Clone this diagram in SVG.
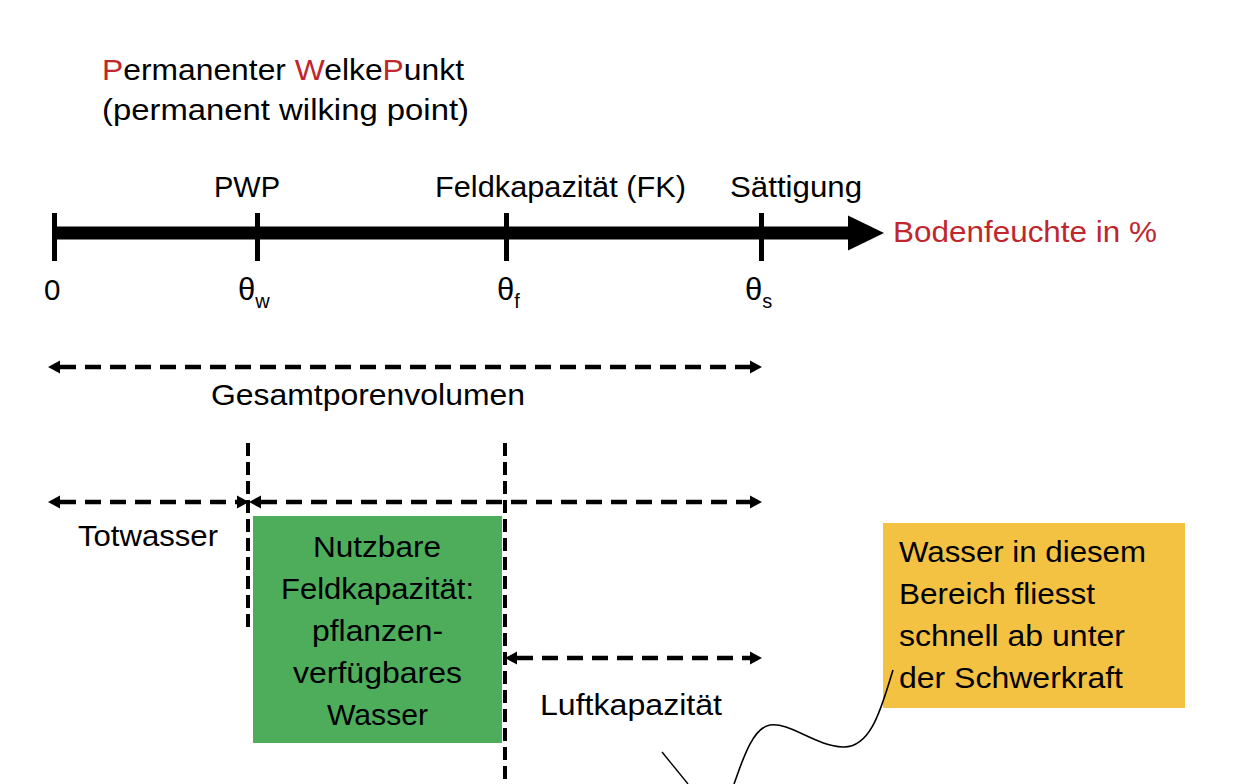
<svg xmlns="http://www.w3.org/2000/svg" width="1234" height="784" viewBox="0 0 1234 784">
<defs>
<style>
text{font-family:"Liberation Sans",Arial,sans-serif;font-size:29.5px;fill:#000}
.red{fill:#C0272D}
.dash{fill:none;stroke:#000;stroke-width:4.5;stroke-dasharray:16 9}
.vdash{fill:none;stroke:#000;stroke-width:4;stroke-dasharray:13 6}
.theta{font-size:31px}
.sub{font-size:20px}
</style>
<marker id="ah" viewBox="0 -7 13 14" markerWidth="13" markerHeight="14" refX="0" refY="0" markerUnits="userSpaceOnUse" orient="auto-start-reverse">
<path d="M0,-6.5 L12,0 L0,6.5 z" fill="#000"/>
</marker>
</defs>
<rect width="1234" height="784" fill="#fff"/>

<g id="title">
<text x="102" y="80" textLength="362" lengthAdjust="spacingAndGlyphs"><tspan class="red">P</tspan>ermanenter <tspan class="red">W</tspan>elke<tspan class="red">P</tspan>unkt</text>
<text x="102" y="120" textLength="367" lengthAdjust="spacingAndGlyphs">(permanent wilking point)</text>
</g>

<g id="axis">
<line x1="54" y1="233" x2="850" y2="233" stroke="#000" stroke-width="13"/>
<polygon points="848,215.5 884,233 848,250.5" fill="#000"/>
<rect x="52" y="213" width="5" height="48" fill="#000"/>
<rect x="255" y="213" width="5" height="48" fill="#000"/>
<rect x="504" y="213" width="5" height="48" fill="#000"/>
<rect x="759" y="213" width="5" height="48" fill="#000"/>
<text class="red" x="893" y="242" textLength="264" lengthAdjust="spacingAndGlyphs">Bodenfeuchte in %</text>
</g>

<g id="tick-labels">
<text x="214" y="197" textLength="66" lengthAdjust="spacingAndGlyphs">PWP</text>
<text x="435" y="197" textLength="251" lengthAdjust="spacingAndGlyphs">Feldkapazität (FK)</text>
<text x="730" y="197" textLength="132" lengthAdjust="spacingAndGlyphs">Sättigung</text>
<text x="44" y="300">0</text>
<text class="theta" x="238" y="300">θ<tspan class="sub" dy="8">w</tspan></text>
<text class="theta" x="497" y="300">θ<tspan class="sub" dy="8">f</tspan></text>
<text class="theta" x="745" y="300">θ<tspan class="sub" dy="8">s</tspan></text>
</g>

<g id="nutzbare-feldkapazitaet">
<rect x="253" y="516" width="249" height="227" fill="#4EAD5B"/>
<text x="313" y="557" textLength="128" lengthAdjust="spacingAndGlyphs">Nutzbare</text>
<text x="281" y="599" textLength="193" lengthAdjust="spacingAndGlyphs">Feldkapazität:</text>
<text x="312" y="641" textLength="131" lengthAdjust="spacingAndGlyphs">pflanzen-</text>
<text x="293" y="683" textLength="169" lengthAdjust="spacingAndGlyphs">verfügbares</text>
<text x="327" y="725" textLength="101" lengthAdjust="spacingAndGlyphs">Wasser</text>
</g>

<g id="note">
<rect x="883" y="523" width="302" height="185" fill="#F4C242"/>
<text x="899" y="562" textLength="247" lengthAdjust="spacingAndGlyphs">Wasser in diesem</text>
<text x="899" y="604" textLength="196" lengthAdjust="spacingAndGlyphs">Bereich fliesst</text>
<text x="899" y="646" textLength="226" lengthAdjust="spacingAndGlyphs">schnell ab unter</text>
<text x="899" y="688" textLength="224" lengthAdjust="spacingAndGlyphs">der Schwerkraft</text>
</g>

<g id="range-labels">
<text x="211" y="405" textLength="314" lengthAdjust="spacingAndGlyphs">Gesamtporenvolumen</text>
<text x="78" y="546" textLength="140" lengthAdjust="spacingAndGlyphs">Totwasser</text>
<text x="540" y="715" textLength="182" lengthAdjust="spacingAndGlyphs">Luftkapazität</text>
</g>

<g id="connectors">
<line class="vdash" x1="248" y1="443" x2="248" y2="628"/>
<line class="vdash" x1="505" y1="443" x2="505" y2="784"/>
<line class="dash" x1="60" y1="367" x2="750" y2="367" marker-start="url(#ah)" marker-end="url(#ah)"/>
<line class="dash" x1="60" y1="502" x2="237" y2="502" marker-start="url(#ah)" marker-end="url(#ah)"/>
<line class="dash" x1="261" y1="502" x2="750" y2="502" marker-start="url(#ah)" marker-end="url(#ah)"/>
<line class="dash" x1="517" y1="658" x2="750" y2="658" marker-start="url(#ah)" marker-end="url(#ah)"/>
<path d="M893,670 C882,705 872,748 843,747 C815,746 790,722 770,725 C752,728 742,762 734,784" fill="none" stroke="#000" stroke-width="1.6"/>
<path d="M662,752 L688,784" fill="none" stroke="#000" stroke-width="1.4"/>
</g>
</svg>
